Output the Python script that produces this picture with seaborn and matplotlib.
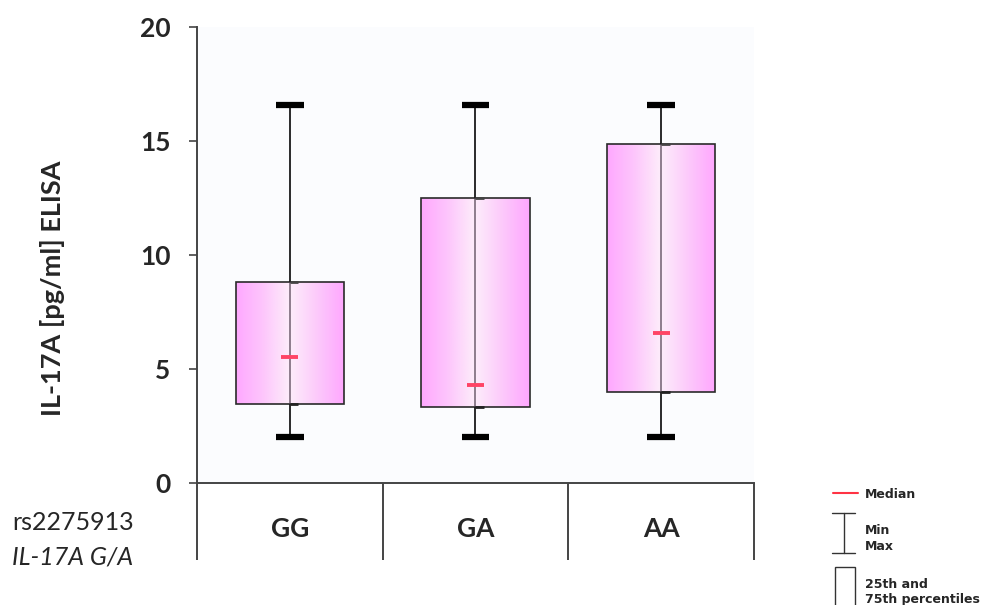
import numpy as np
import matplotlib
matplotlib.use("Agg")
import matplotlib.pyplot as plt
import matplotlib.colors as mcolors
import seaborn as sns

# IL-17A concentrations by rs2275913 genotype
genotypes = ["GG", "GA", "AA"]
minimum = [2.03, 2.03, 2.03]
q1 = [3.46, 3.32, 4.00]
median = [5.51, 4.28, 6.59]
q3 = [8.80, 12.48, 14.87]
maximum = [16.59, 16.59, 16.59]
y_ticks = [0, 5, 10, 15, 20]

sns.set_theme(style="white")
plt.rcParams["font.family"] = ["Lato", "DejaVu Sans"]

fig = plt.figure(figsize=(9.93, 6.05), dpi=100)
ax = fig.add_axes([0.1984, 0.2017, 0.5609, 0.7537])
ax.set_facecolor("#fbfcfe")

stats = [
    dict(label=g, whislo=lo, q1=a, med=m, q3=b, whishi=hi, fliers=[])
    for g, lo, a, m, b, hi in zip(genotypes, minimum, q1, median, q3, maximum)
]
pos = np.arange(len(genotypes))
box_w = 0.585
res = ax.bxp(
    stats, positions=pos, widths=box_w, capwidths=0.15, patch_artist=True,
    showfliers=False,
    boxprops=dict(facecolor="none", edgecolor="#2a2a2a", linewidth=1.2),
    whiskerprops=dict(color="#1a1a1a", linewidth=1.3),
    capprops=dict(color="black", linewidth=4.5, solid_capstyle="butt"),
    medianprops=dict(color="none"),
    zorder=3,
)

# horizontal pink gradient inside each box
cmap = mcolors.LinearSegmentedColormap.from_list(
    "pinkfade",
    [(0.0, "#ffa8ff"), (0.25, "#fdc6fc"), (0.48, "#fdebfa"),
     (0.52, "#fdeafa"), (0.75, "#fcc9fb"), (1.0, "#ffa6ff")],
)
grad = np.linspace(0, 1, 256)[None, :]
for p, patch, lo, hi in zip(pos, res["boxes"], q1, q3):
    im = ax.imshow(
        grad, cmap=cmap, aspect="auto", interpolation="bilinear",
        extent=(p - box_w / 2, p + box_w / 2, lo, hi), zorder=2,
    )
    im.set_clip_path(patch)

# whisker line continues through the box
ax.vlines(pos, q1, q3, color="#5a4a5a", linewidth=1.2, alpha=0.8, zorder=4)
# small quartile marks beside the whisker
ax.hlines(q1, pos, pos + 0.045, color="#222222", linewidth=2.0, zorder=4)
ax.hlines(q3, pos, pos + 0.045, color="#444444", linewidth=2.0, zorder=4)
# medians
ax.hlines(median, pos - 0.045, pos + 0.045, color="#ff4466", linewidth=2.8, zorder=5)

ax.set_xlim(-0.5, 2.5)
ax.set_ylim(0, 20)
ax.set_yticks(y_ticks)
ax.set_yticklabels([str(t) for t in y_ticks], fontsize=19, fontweight="bold")
ax.set_xticks([])
ax.tick_params(axis="y", direction="out", length=6, width=1.2, color="#444444",
               left=True, pad=13)
for s in ["top", "right"]:
    ax.spines[s].set_visible(False)
for s in ["left", "bottom"]:
    ax.spines[s].set_color("#444444")
    ax.spines[s].set_linewidth(1.4)

# category dividers below the axis
ax.vlines([-0.5, 0.5, 1.5, 2.5], -3.4, 0, color="#444444", linewidth=1.4,
          clip_on=False)
for p, g in zip(pos, genotypes):
    ax.text(p, -2.0, g, ha="center", va="center", fontsize=19, fontweight="bold")

ax.set_ylabel("IL-17A [pg/ml] ELISA", fontsize=19.5, fontweight="bold")
ax.yaxis.set_label_coords(-0.237, 0.428)

fig.text(0.012, 0.137, "rs2275913", fontsize=18, ha="left", va="center")
fig.text(0.012, 0.079, "IL-17A G/A", fontsize=18, ha="left", va="center",
         style="italic")

# key
lf = ["DejaVu Sans"]
fig.add_artist(plt.Line2D([833 / 993, 858 / 993], [1 - 493 / 605] * 2,
                          color="#ff3344", linewidth=1.5))
fig.text(865 / 993, 1 - 494 / 605, "Median", fontsize=9, fontweight="bold",
         family=lf, va="center")
for yy in (513, 553):
    fig.add_artist(plt.Line2D([832 / 993, 855 / 993], [1 - yy / 605] * 2,
                              color="#333333", linewidth=1.0))
fig.add_artist(plt.Line2D([843.5 / 993] * 2, [1 - 513 / 605, 1 - 553 / 605],
                          color="#333333", linewidth=1.0))
fig.text(865 / 993, 1 - 530 / 605, "Min", fontsize=9, fontweight="bold",
         family=lf, va="center")
fig.text(865 / 993, 1 - 547 / 605, "Max", fontsize=9, fontweight="bold",
         family=lf, va="center")
fig.add_artist(plt.Rectangle((835 / 993, 1 - 615 / 605), 20 / 993, 48 / 605,
                             fill=False, edgecolor="#333333", linewidth=1.0))
fig.text(865 / 993, 1 - 584 / 605, "25th and", fontsize=9, fontweight="bold",
         family=lf, va="center")
fig.text(865 / 993, 1 - 600 / 605, "75th percentiles", fontsize=9,
         fontweight="bold", family=lf, va="center")

fig.savefig("out.png", dpi=100, facecolor="white")
